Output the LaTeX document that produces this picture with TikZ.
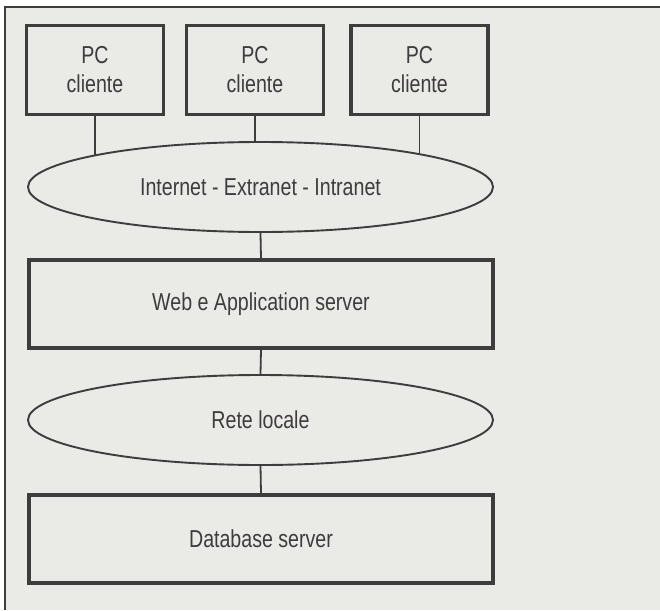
\documentclass[tikz,border=0pt]{standalone}
\usepackage{fontspec}
\setmainfont{Liberation Sans}[FakeStretch=0.8]
\usepackage{tikz}
\usetikzlibrary{shapes.geometric, positioning, backgrounds}
\definecolor{paper}{RGB}{234,234,231}
\definecolor{ink}{RGB}{62,60,60}

\begin{document}
\begin{tikzpicture}[
    x=1pt, y=-1pt,
    box/.style={draw=ink, line width=3.2pt, fill=paper, text=ink, align=center,
        minimum height=88pt, font=\fontsize{24.5}{29}\selectfont},
    pcbox/.style={box, minimum width=137pt, minimum height=89pt},
    wide/.style={box, minimum width=464pt},
    cloud/.style={ellipse, draw=ink, line width=1.9pt, fill=paper, text=ink,
        minimum width=465pt, minimum height=90pt, inner sep=0pt,
        font=\fontsize{24.5}{29}\selectfont},
    link/.style={draw=ink, line width=1.8pt}
]
    \useasboundingbox (0,0) rectangle (660,610);

    % Client PCs
    \node[pcbox] (pc1) at (95, 70) {PC\\cliente};
    \node[pcbox] (pc2) at (255, 70) {PC\\cliente};
    \node[pcbox] (pc3) at (419.5, 70) {PC\\cliente};

    % Networks and servers
    \node[cloud] (net) at (260.5, 187) {Internet - Extranet - Intranet};
    \node[wide] (web) at (261, 304) {Web e Application server};
    \node[cloud] (lan) at (260.5, 420) {Rete locale};
    \node[wide] (db) at (261, 539) {Database server};

    \begin{scope}[on background layer]
        % Paper
        \fill[white] (0,0) rectangle (660,610);
        \fill[paper] (5,7) rectangle (660,610);
        \draw[ink, line width=1.8pt] (5,610) -- (5,7) -- (660,7);

        % Connectors
        \draw[link] (pc1.south) -- (pc1.south |- net.center);
        \draw[link] (pc2.south) -- (pc2.south |- net.center);
        \draw[link] (pc3.south) -- (pc3.south |- net.center);
        \draw[link] (net.south) -- (web.north);
        \draw[link] (web.south) -- (lan.north);
        \draw[link] (lan.south) -- (db.north);
    \end{scope}
\end{tikzpicture}
\end{document}
